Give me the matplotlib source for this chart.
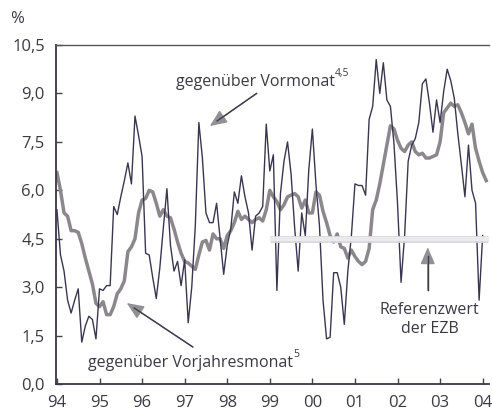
import matplotlib
matplotlib.use("Agg")
import matplotlib.pyplot as plt
import numpy as np
from matplotlib.ticker import FuncFormatter

# monthly values from Jan 1994 on
vormonat = [5.4, 4.0, 3.5, 2.6, 2.2, 2.6, 2.95, 1.3, 1.8, 2.1, 2.0, 1.4,
            2.95, 2.9, 3.05, 3.05, 5.5, 5.25, 5.8, 6.3, 6.85, 6.2, 8.3, 7.7,
            7.05, 4.05, 4.0, 3.3, 2.65, 3.6, 4.85, 6.05, 4.3, 3.5, 3.8, 3.05,
            3.85, 1.9, 3.0, 4.9, 8.1, 7.0, 5.3, 5.0, 5.0, 5.6, 4.5, 3.4,
            4.3, 4.8, 5.95, 5.6, 6.45, 5.8, 5.3, 4.15, 5.2, 5.3, 5.5, 8.05,
            6.6, 7.1, 2.9, 5.9, 6.9, 7.5, 6.5, 4.85, 3.5, 5.3, 4.6, 6.65,
            7.9, 6.2, 4.9, 2.6, 1.4, 1.45, 3.45, 3.45, 3.0, 1.85, 3.5, 4.6,
            6.2, 6.15, 6.15, 5.85, 8.2, 8.6, 10.05, 9.0, 9.95, 8.8, 8.6, 7.45,
            5.6, 3.15, 4.6, 6.9, 7.4, 7.6, 8.1, 9.3, 9.45, 8.7, 7.8, 8.8,
            8.1, 9.05, 9.75, 9.4, 8.85, 7.75, 6.8, 5.8, 7.4, 6.0, 5.6, 2.6,
            4.6]
vorjahr = [6.55, 6.0, 5.3, 5.2, 4.75, 4.75, 4.7, 4.35, 3.9, 3.5, 3.1, 2.5,
           2.4, 2.55, 2.15, 2.15, 2.4, 2.8, 2.95, 3.2, 4.1, 4.25, 4.5, 5.3,
           5.7, 5.75, 6.0, 5.95, 5.6, 5.2, 5.4, 5.2, 5.15, 4.8, 4.4, 4.05,
           3.8, 3.75, 3.65, 3.55, 4.0, 4.4, 4.45, 4.15, 4.65, 4.5, 4.5, 4.2,
           4.6, 4.75, 5.0, 5.35, 5.1, 5.2, 5.1, 5.0, 5.1, 5.15, 5.05, 5.4,
           6.0, 5.8, 5.65, 5.4, 5.55, 5.8, 5.85, 5.9, 5.8, 5.45, 5.7, 5.3,
           5.3, 5.95, 5.85, 5.35, 5.0, 4.6, 4.4, 4.65, 4.25, 4.2, 3.9, 4.15,
           3.95, 3.8, 3.7, 3.8, 4.2, 5.4, 5.7, 6.2, 6.8, 7.4, 8.0, 7.9,
           7.55, 7.3, 7.2, 7.4, 7.5, 7.2, 7.1, 7.15, 7.0, 7.0, 7.05, 7.1,
           7.5, 8.4, 8.55, 8.7, 8.6, 8.65, 8.4, 8.1, 7.75, 8.05, 7.3, 6.9,
           6.55, 6.3]
start_year = 1994
referenzwert = 4.5
ref_from, ref_to = 1999.0, 2004.12
year_ticks = list(range(1994, 2005))
year_labels = ['94', '95', '96', '97', '98', '99', '00', '01', '02', '03', '04']
y_ticks = [0, 1.5, 3.0, 4.5, 6.0, 7.5, 9.0, 10.5]

plt.rcParams['font.family'] = ['Open Sans', 'DejaVu Sans']
text_col = '#3a3a44'

fig = plt.figure(figsize=(4.92, 4.13), dpi=100)
ax = fig.add_axes([0.114, 0.070, 0.880, 0.821])

x_m = start_year + np.arange(len(vormonat)) / 12
x_j = start_year + np.arange(len(vorjahr)) / 12

ax.plot(x_j, vorjahr, color='#8c878c', lw=2.5, zorder=2)
ax.plot(x_m, vormonat, color='#3b3650', lw=1.0, zorder=3)

# reference band of the ECB, lies over the lines
ax.plot([ref_from, ref_to], [referenzwert, referenzwert], color='#d6d6da', lw=5.0,
        solid_capstyle='butt', zorder=4, alpha=0.9)
ax.plot([ref_from, ref_to], [referenzwert, referenzwert], color='#ececee', lw=3.2,
        solid_capstyle='butt', zorder=4.1, alpha=0.95)

ax.set_xlim(1993.98, 2004.15)
ax.set_ylim(0, 10.5)
ax.set_xticks(year_ticks)
ax.set_xticklabels(year_labels)
ax.set_yticks(y_ticks)
ax.yaxis.set_major_formatter(FuncFormatter(lambda v, p: '{:.1f}'.format(v).replace('.', ',')))
ax.tick_params(axis='both', direction='in', length=4, width=1, color='#444',
               labelsize=12, labelcolor=text_col)
ax.tick_params(axis='x', pad=8)
ax.tick_params(axis='y', pad=8)

for s in ['left', 'bottom']:
    ax.spines[s].set_color('#3c3348')
    ax.spines[s].set_linewidth(1.3)
ax.spines['top'].set_color('#555')
ax.spines['top'].set_linewidth(1.0)
ax.spines['right'].set_visible(False)

fig.text(10 / 492, 1 - 19 / 413, '%', fontsize=12, color=text_col, va='center')


def arrow(tip, tail):
    # gray head, dark shaft, as in the print
    ax.annotate('', xy=tip, xytext=tail,
                arrowprops=dict(arrowstyle='-|>,head_length=0.75,head_width=0.32',
                                fc='#909095', ec='#909095', lw=1.0, mutation_scale=14,
                                shrinkA=0, shrinkB=0), zorder=5)
    p_tip = ax.transData.transform(tip)
    p_tail = ax.transData.transform(tail)
    d = p_tip - p_tail
    d = d / np.hypot(*d)
    p_end = p_tip - d * 9
    end = ax.transData.inverted().transform(p_end)
    ax.plot([tail[0], end[0]], [tail[1], end[1]], color='#3c3c4c', lw=1.0, zorder=5)


t1 = ax.text(1996.79, 9.35, 'gegenüber Vormonat', fontsize=11.5, color=text_col,
             ha='left', va='center')
ax.annotate('4,5', xy=(1.0, 0.7), xycoords=t1, fontsize=7.5, color=text_col,
            ha='left', va='bottom')
arrow((1997.59, 7.99), (1998.69, 9.0))

t2 = ax.text(1994.73, 0.65, 'gegenüber Vorjahresmonat', fontsize=11.5, color=text_col,
             ha='left', va='center')
ax.annotate('5', xy=(1.0, 0.7), xycoords=t2, fontsize=7.5, color=text_col,
            ha='left', va='bottom')
arrow((1995.64, 2.51), (1997.19, 1.15))

ax.text(2002.76, 2.0, 'Referenzwert\nder EZB', fontsize=11.5, color=text_col,
        ha='center', va='center', linespacing=1.2)
arrow((2002.71, 4.24), (2002.71, 2.91))

fig.savefig('out.png', dpi=100)
